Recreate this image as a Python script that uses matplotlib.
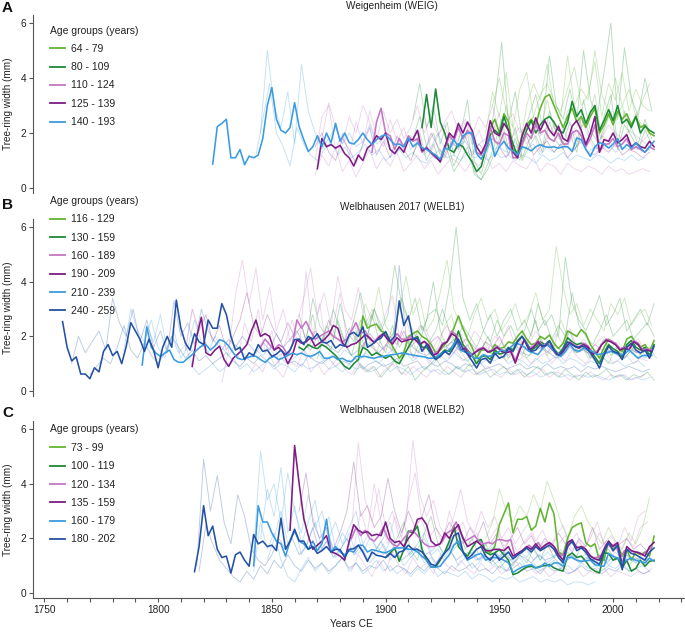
import matplotlib
matplotlib.use("Agg")
import matplotlib.pyplot as plt
from matplotlib.lines import Line2D
import numpy as np

plt.rcParams["font.family"] = ["Liberation Sans", "DejaVu Sans"]

LGREEN = "#62b531"
DGREEN = "#1b8a36"
LPURPLE = "#c477c4"
DPURPLE = "#7c1c84"
LBLUE = "#3a9be0"
DBLUE = "#2451a6"

MEAN_STEP = 2
TREE_STEP = 3

# ---------------- Panel A: Weigenheim (WEIG), group means ----------------
WEIG_LABELS = ["64 - 79", "80 - 109", "110 - 124", "125 - 139", "140 - 193"]
WEIG_COLORS = [LGREEN, DGREEN, LPURPLE, DPURPLE, LBLUE]

WEIG_64_79_START = 1944
WEIG_64_79 = [1.6, 2.2, 2.5, 2.0, 2.7, 2.4, 1.4, 1.3, 1.9, 2.3, 2.5, 2.3, 2.9, 3.3, 3.4, 3.0,
              2.6, 2.2, 2.6, 2.9, 2.4, 2.6, 2.2, 2.6, 2.9, 2.0, 2.3, 2.7, 2.3, 2.8, 2.5, 2.7,
              2.3, 2.6, 2.2, 2.3, 2.0, 1.9]
WEIG_80_109_START = 1916
WEIG_80_109 = [2.2, 3.4, 2.2, 3.6, 2.4, 2.0, 1.4, 1.3, 1.6, 1.5, 1.2, 0.95, 0.6, 0.78, 1.4, 1.94,
               2.1, 1.94, 2.6, 2.1, 1.6, 1.15, 1.64, 2.1, 2.45, 2.0, 2.3, 2.5, 2.6, 2.4, 2.1, 2.0,
               2.4, 3.15, 2.6, 2.85, 2.35, 2.75, 3.0, 2.1, 2.45, 2.85, 2.45, 3.0, 2.35, 2.5, 2.2,
               2.6, 2.0, 2.25, 2.1, 2.0]
WEIG_110_124_START = 1894
WEIG_110_124 = [1.3, 2.4, 2.9, 2.0, 1.9, 1.4, 1.8, 1.5, 1.9, 1.7, 1.8, 1.3, 1.5, 1.25, 1.1, 1.0,
                1.4, 1.9, 1.7, 2.2, 1.8, 2.1, 1.9, 1.3, 1.2, 1.5, 2.2, 1.7, 1.6, 2.0, 1.9, 1.1,
                1.1, 1.6, 2.0, 1.8, 2.3, 2.0, 2.1, 1.8, 1.7, 2.0, 1.6, 1.6, 2.0, 2.1, 1.9, 1.5,
                1.8, 2.3, 1.3, 1.6, 1.6, 1.8, 1.5, 1.6, 1.8, 1.4, 1.5, 1.4, 1.3, 1.5, 1.4]
WEIG_125_139_START = 1870
WEIG_125_139 = [0.7, 1.8, 1.5, 1.58, 1.45, 1.55, 1.25, 1.1, 0.8, 1.2, 1.0, 1.45, 1.6, 1.9, 1.76,
                2.0, 1.4, 1.25, 1.5, 1.3, 1.76, 1.76, 2.1, 1.35, 1.45, 1.3, 1.15, 0.95, 1.5, 2.0,
                1.82, 2.35, 2.0, 2.4, 2.1, 1.5, 1.25, 1.6, 2.45, 2.0, 1.9, 2.35, 2.1, 1.3, 1.1,
                1.9, 2.35, 2.0, 2.55, 2.1, 2.45, 2.1, 1.9, 2.25, 1.8, 1.7, 2.25, 2.45, 2.1, 1.58,
                2.0, 2.6, 1.3, 1.76, 1.7, 2.0, 1.64, 1.76, 1.94, 1.5, 1.64, 1.5, 1.45, 1.7, 1.5]
WEIG_140_193_START = 1824
WEIG_140_193 = [0.87, 2.23, 2.35, 2.5, 1.1, 1.1, 1.4, 0.85, 1.16, 1.1, 1.2, 1.8, 3.0, 3.65, 2.5,
                2.1, 2.0, 2.2, 3.1, 2.23, 1.76, 1.33, 1.5, 1.9, 1.5, 2.0, 1.64, 2.35, 1.7, 2.0,
                1.65, 1.6, 1.76, 2.0, 1.76, 1.58, 1.76, 1.88, 1.94, 1.76, 1.58, 1.6, 1.5, 1.82,
                1.5, 1.64, 1.47, 1.4, 1.3, 1.2, 1.05, 1.45, 1.4, 1.76, 1.5, 1.9, 2.0, 2.0, 1.25,
                1.05, 1.35, 1.88, 1.15, 1.5, 1.7, 1.45, 1.35, 1.2, 1.5, 1.45, 1.35, 1.5, 1.58,
                1.5, 1.48, 1.5, 1.45, 1.5, 1.5, 1.33, 1.82, 1.76, 1.4, 1.15, 1.5, 1.65, 1.6, 1.45,
                1.6, 1.8, 1.4, 1.58, 1.45, 1.64, 1.45, 1.3, 1.5, 1.7]

# Panel A: individual trees (every 3rd year)
WEIG_T_BLUE1_START = 1845
WEIG_T_BLUE1 = [2.0, 5.0, 3.0, 2.2, 3.5, 1.6, 4.5, 2.8, 2.0, 1.4, 1.8, 2.2, 1.6, 2.0, 1.5, 1.7,
                2.3, 1.6, 1.8, 1.4, 1.3, 1.6, 1.9, 1.7, 1.2, 1.5, 2.0, 1.4, 1.6, 1.5, 1.7, 1.3,
                1.6, 1.8, 1.4, 1.5, 1.3, 1.7, 1.5, 1.4, 1.6, 1.2, 1.5, 1.3, 1.6, 1.5, 1.4, 1.7,
                1.3, 1.5, 1.4, 1.6, 1.3, 1.5, 1.4, 1.6, 1.5, 1.4]
WEIG_T_BLUE2_START = 1843
WEIG_T_BLUE2 = [1.2, 2.5, 3.8, 2.0, 1.5, 0.8, 2.2, 1.6, 1.2, 1.0, 1.4, 1.7, 1.2, 1.5, 1.1, 1.3,
                1.6, 1.2, 1.4, 1.0, 1.2, 1.4, 1.1, 1.3, 1.0, 0.9, 1.2, 1.4, 1.1, 1.2, 1.0, 1.3,
                1.1, 1.2, 1.0, 1.3, 1.1, 1.2, 1.0, 1.2, 1.1, 0.9, 1.2, 1.0, 1.1, 1.3, 1.0, 1.2,
                1.1, 1.0, 1.2, 1.1, 0.9, 1.1, 1.0, 1.2, 1.0, 1.1]
WEIG_T_PINK_START = 1869
WEIG_T_PINK1 = [1.0, 2.6, 3.0, 1.4, 2.0, 1.2, 2.4, 1.6, 2.8, 1.9, 1.5, 2.5, 1.7, 2.2, 1.4, 1.8,
                2.6, 1.3, 1.9, 2.3, 1.5, 1.8, 2.4, 1.6, 2.1, 1.4, 2.0, 2.7, 1.5, 1.9, 2.2, 1.6,
                2.0, 1.3, 1.8, 2.3, 1.7, 1.5, 2.0, 1.6, 1.8, 1.4, 1.9, 1.7, 1.5, 1.8, 1.6, 1.4,
                1.7, 1.5]
WEIG_T_PINK2 = [0.5, 1.2, 0.8, 1.5, 0.6, 1.0, 0.4, 0.9, 1.4, 0.7, 1.1, 0.8, 1.3, 0.6, 0.9, 1.2,
                0.7, 1.0, 0.5, 0.8, 1.1, 0.9, 0.6, 1.0, 0.8, 1.2, 0.7, 0.9, 0.6, 1.0, 0.8, 0.7,
                1.1, 0.6, 0.9, 0.8, 0.5, 0.9, 0.7, 0.6, 0.8, 0.7, 0.5, 0.8, 0.6, 0.7, 0.5, 0.6,
                0.7, 0.6]
WEIG_T_PINK3 = [1.5, 2.0, 1.3, 1.0, 1.8, 1.4, 0.9, 1.6, 2.2, 1.2, 1.7, 1.1, 1.9, 1.4, 1.0, 1.6,
                1.3, 2.0, 1.5, 1.1, 1.7, 1.4, 1.9, 1.2, 1.6, 1.3, 1.8, 1.5, 1.1, 1.6, 1.4, 1.9,
                1.2, 1.5, 1.7, 1.3, 1.6, 1.1, 1.4, 1.8, 1.3, 1.2, 1.5, 1.3, 1.6, 1.2, 1.4, 1.3,
                1.1, 1.3]
WEIG_T_PINK4_START = 1872
WEIG_T_PINK4 = [1.8, 3.1, 2.2, 1.6, 2.6, 2.0, 3.0, 2.4, 1.7, 2.8, 2.0, 2.5, 1.8, 2.2, 3.0, 2.0,
                2.6, 1.9, 2.4, 2.8, 2.1, 2.5, 1.9, 2.6, 2.2, 3.0, 2.0, 2.4, 2.7, 2.0, 2.3, 2.6,
                1.9, 2.2, 2.0, 2.4, 1.8, 2.1, 2.5, 1.9, 2.2, 1.8, 2.3, 2.0, 1.8, 2.1, 1.9, 1.7,
                2.0]
WEIG_T_DGREEN_START = 1912
WEIG_T_DGREEN1 = [2.5, 3.8, 2.2, 3.0, 1.6, 2.4, 1.2, 2.0, 3.2, 1.0, 0.5, 1.4, 3.0, 5.3, 2.4, 3.5,
                  1.8, 2.6, 3.4, 2.2, 4.8, 3.0, 2.5, 3.6, 2.4, 5.0, 3.2, 2.6, 4.2, 6.0, 2.5, 5.1,
                  3.3, 2.6, 4.0, 2.8]
WEIG_T_DGREEN2 = [1.8, 2.6, 1.5, 2.0, 1.2, 1.7, 0.8, 1.4, 2.0, 0.6, 0.3, 0.9, 1.6, 2.5, 1.4, 2.2,
                  1.1, 1.7, 2.3, 1.5, 2.8, 2.0, 1.6, 2.4, 1.5, 3.2, 2.1, 1.7, 2.6, 3.4, 1.6, 2.8,
                  2.2, 1.6, 2.5, 1.8]
WEIG_T_DGREEN3 = [1.2, 2.0, 1.0, 1.6, 0.9, 1.4, 0.6, 1.0, 1.5, 0.5, 0.3, 0.7, 1.3, 2.0, 1.2, 1.8,
                  1.0, 1.5, 1.9, 1.3, 2.4, 1.7, 1.4, 2.0, 1.3, 2.6, 1.8, 1.4, 2.2, 2.8, 1.4, 2.3,
                  1.9, 1.4, 2.1, 1.6]
WEIG_T_LGREEN_START = 1944
WEIG_T_LGREEN1 = [2.0, 3.5, 2.6, 4.2, 2.2, 1.5, 3.0, 3.8, 3.2, 4.5, 3.0, 2.8, 3.6, 4.4, 3.0, 3.4,
                  4.6, 2.6, 3.8, 3.2, 4.2, 2.8, 3.6, 3.0, 2.8]
WEIG_T_LGREEN2 = [1.4, 2.4, 1.8, 3.0, 1.6, 1.0, 2.2, 2.6, 2.0, 3.2, 2.2, 1.8, 2.8, 3.0, 2.2, 2.5,
                  3.4, 1.8, 2.6, 2.4, 3.0, 2.0, 2.7, 2.2, 2.0]
WEIG_T_LGREEN3_START = 1947
WEIG_T_LGREEN3 = [3.0, 4.0, 2.8, 2.2, 3.6, 4.2, 2.6, 3.4, 3.8, 3.2, 2.6, 4.8, 3.0, 3.6, 3.2, 5.0,
                  3.4, 2.8, 4.0, 3.0, 3.6, 2.6, 3.2, 3.8]

# ---------------- Panel B: Welbhausen 2017 (WELB1), group means ----------------
WELB1_LABELS = ["116 - 129", "130 - 159", "160 - 189", "190 - 209", "210 - 239", "240 - 259"]
WELB1_COLORS = [LGREEN, DGREEN, LPURPLE, DPURPLE, LBLUE, DBLUE]

WELB1_116_129_START = 1888
WELB1_116_129 = [1.3, 2.75, 2.3, 2.4, 2.45, 2.2, 2.1, 1.8, 1.5, 1.2, 1.4, 2.0, 2.1, 2.2, 2.0, 1.9,
                 1.7, 1.4, 1.5, 1.7, 1.9, 2.3, 2.75, 2.3, 1.9, 1.6, 1.2, 1.5, 1.5, 1.4, 1.7, 1.55,
                 1.6, 1.8, 1.75, 2.0, 2.2, 1.9, 1.7, 1.75, 2.0, 1.9, 2.05, 1.75, 1.55, 1.75, 2.2,
                 2.1, 2.0, 2.25, 2.1, 1.7, 1.45, 1.2, 1.6, 1.9, 1.75, 1.65, 1.45, 1.9, 2.0, 1.75,
                 1.6, 1.7, 1.45, 1.85]
WELB1_130_159_START = 1862
WELB1_130_159 = [1.6, 1.5, 1.7, 1.6, 1.55, 1.7, 1.6, 1.45, 1.3, 1.1, 0.9, 0.8, 1.0, 1.15, 1.6, 1.5,
                 1.3, 1.4, 1.3, 1.2, 1.3, 1.1, 1.0, 1.3, 1.6, 1.9, 2.0, 1.6, 1.6, 1.35, 1.2, 1.35,
                 1.5, 1.45, 1.7, 2.2, 1.7, 1.5, 1.3, 1.0, 1.25, 1.3, 1.15, 1.5, 1.35, 1.4, 1.6,
                 1.5, 1.85, 2.0, 1.75, 1.5, 1.6, 1.8, 1.7, 1.85, 1.55, 1.35, 1.55, 1.95, 1.8, 1.7,
                 1.75, 1.7, 1.45, 1.25, 1.0, 1.4, 1.7, 1.55, 1.45, 1.25, 1.7, 1.85, 1.6, 1.5, 1.6,
                 1.3, 1.7]
WELB1_160_189_START = 1845
WELB1_160_189 = [1.6, 1.9, 1.7, 1.5, 1.7, 1.6, 1.3, 1.7, 2.6, 2.3, 2.55, 2.2, 1.9, 2.0, 2.1, 2.2,
                 2.0, 1.9, 1.8, 1.9, 2.2, 2.5, 2.1, 2.2, 1.9, 1.8, 2.0, 2.1, 1.9, 1.8, 2.1, 1.9,
                 1.9, 2.0, 1.9, 1.75, 1.8, 1.7, 1.35, 1.45, 1.75, 1.8, 2.2, 2.05, 1.55, 1.6, 1.3,
                 1.4, 1.55, 1.6, 1.45, 1.5, 1.65, 1.5, 1.45, 1.5, 1.1, 1.55, 1.9, 1.55, 1.65, 1.85,
                 1.65, 1.75, 1.6, 1.4, 1.35, 1.6, 1.8, 1.7, 1.6, 1.75, 1.65, 1.4, 1.45, 1.7, 1.9,
                 1.85, 1.75, 1.55, 1.6, 1.55, 1.85, 1.75, 1.5, 1.55, 1.5]
WELB1_190_209_START = 1815
WELB1_190_209 = [0.9, 2.0, 2.7, 1.4, 1.3, 1.5, 1.64, 1.15, 0.9, 1.2, 1.35, 1.5, 1.7, 2.2, 2.6, 2.0,
                 2.1, 2.0, 1.5, 1.6, 1.4, 1.0, 1.3, 1.88, 1.75, 1.8, 1.95, 1.64, 1.76, 1.88, 2.06,
                 2.4, 2.3, 1.76, 1.6, 1.7, 1.75, 1.9, 2.06, 1.95, 1.76, 1.95, 2.1, 1.88, 1.72, 1.95,
                 1.8, 1.85, 1.9, 1.88, 1.7, 1.82, 1.65, 1.3, 1.39, 1.7, 1.8, 2.1, 2.0, 1.5, 1.57,
                 1.25, 1.39, 1.5, 1.57, 1.42, 1.48, 1.6, 1.45, 1.4, 1.45, 1.02, 1.5, 1.88, 1.5, 1.6,
                 1.8, 1.6, 1.7, 1.55, 1.35, 1.3, 1.57, 1.76, 1.64, 1.57, 1.7, 1.6, 1.35, 1.4, 1.7,
                 1.86, 1.8, 1.7, 1.5, 1.57, 1.5, 1.8, 1.7, 1.45, 1.5, 1.45]
WELB1_210_239_START = 1793
WELB1_210_239 = [0.95, 2.35, 1.6, 1.39, 1.27, 1.39, 1.5, 1.15, 1.05, 1.05, 1.2, 1.33, 1.5, 1.64,
                 1.7, 1.5, 1.65, 1.88, 1.82, 1.65, 1.4, 1.2, 1.15, 1.22, 1.27, 1.27, 1.15, 1.05,
                 1.2, 1.27, 1.15, 1.22, 1.3, 1.39, 1.33, 1.39, 1.3, 1.27, 1.33, 1.45, 1.2, 1.2,
                 1.27, 1.15, 1.2, 1.1, 1.08, 1.27, 1.25, 1.27, 1.22, 1.2, 1.25, 1.27, 1.3, 1.33,
                 1.35, 1.39, 1.37, 1.33, 1.3, 1.27, 1.25, 1.2, 1.2, 1.3, 1.39, 1.45, 1.6, 1.85,
                 1.5, 1.42, 1.39, 1.2, 1.2, 1.33, 1.27, 1.3, 1.39, 1.5, 1.45, 1.6, 1.76, 1.7, 1.6,
                 1.45, 1.4, 1.33, 1.57, 1.7, 1.55, 1.39, 1.27, 1.45, 1.7, 1.5, 1.45, 1.57, 1.5,
                 1.45, 1.33, 1.36, 1.39, 1.45, 1.38, 1.33, 1.35, 1.5, 1.35, 1.2, 1.3, 1.3, 1.3]
WELB1_240_259_START = 1758
WELB1_240_259 = [2.54, 1.6, 1.1, 1.25, 0.62, 0.62, 0.45, 0.85, 0.7, 1.45, 1.7, 1.3, 1.45, 1.0,
                 1.64, 2.5, 2.2, 1.9, 1.45, 1.9, 1.5, 0.85, 1.6, 2.0, 1.6, 3.33, 2.3, 1.75, 1.5,
                 2.1, 1.8, 1.7, 2.6, 2.3, 2.3, 3.2, 2.8, 2.0, 1.5, 1.6, 1.15, 1.4, 1.3, 1.7, 1.45,
                 1.5, 1.27, 1.35, 1.5, 1.33, 1.5, 1.88, 1.9, 1.7, 2.0, 1.9, 2.1, 1.8, 1.75, 1.85,
                 1.57, 1.7, 1.64, 2.06, 2.15, 2.0, 2.35, 1.6, 1.7, 1.85, 1.94, 2.18, 1.82, 2.0, 3.3,
                 2.4, 2.75, 1.9, 1.94, 1.45, 1.7, 1.39, 1.15, 1.27, 1.45, 1.33, 1.6, 1.9, 1.55,
                 1.35, 1.1, 0.84, 1.15, 1.2, 1.02, 1.39, 1.2, 1.27, 1.57, 1.45, 1.8, 2.0, 1.7, 1.45,
                 1.5, 1.7, 1.64, 1.82, 1.5, 1.3, 1.5, 1.8, 1.7, 1.6, 1.64, 1.6, 1.39, 1.15, 0.84,
                 1.3, 1.64, 1.45, 1.4, 1.15, 1.6, 1.75, 1.5, 1.39, 1.5, 1.2, 1.64]

# Panel B: individual trees (every 3rd year)
WELB1_T_DBLUE1_START = 1762
WELB1_T_DBLUE1 = [1.0, 2.0, 1.4, 1.8, 2.2, 1.5, 3.4, 2.5, 2.0, 3.0, 1.8, 2.6, 1.6, 2.2, 1.4, 3.3,
                  2.0, 2.5, 1.7, 3.0, 2.2, 1.8, 1.5, 1.9, 1.6, 2.0, 1.7, 1.4, 1.8, 1.5, 2.1, 1.6,
                  1.9, 2.2, 1.7, 1.5, 2.0, 1.8, 1.6, 1.4, 1.7, 1.3, 1.5, 1.8, 1.6, 1.4, 1.7, 1.5,
                  4.6, 2.0, 1.6, 1.4, 1.3, 1.5, 1.2, 1.6, 1.4, 1.8, 1.3, 1.0, 1.3, 1.2, 1.4, 1.5,
                  1.3, 1.7, 1.4, 1.3, 1.5, 1.6, 1.4, 1.2, 1.3, 1.6, 1.4, 1.5, 1.3, 1.0, 1.4, 1.5,
                  1.3, 1.2, 1.5, 1.4, 1.2, 1.4]
WELB1_T_DBLUE2_START = 1770
WELB1_T_DBLUE2 = [0.6, 0.9, 1.2, 1.0, 1.6, 2.4, 1.5, 1.2, 1.8, 1.3, 1.0, 1.4, 2.0, 1.6, 1.2, 1.5,
                  1.1, 1.3, 1.0, 1.2, 1.4, 1.1, 0.9, 1.2, 1.0, 1.3, 1.1, 0.9, 1.2, 1.0, 1.1, 0.9,
                  1.3, 1.1, 1.0, 1.2, 0.9, 1.1, 1.0, 1.2, 0.8, 1.0, 1.1, 0.9, 1.0, 1.2, 0.9, 1.0,
                  1.1, 0.8, 1.0, 0.9, 1.1, 1.0, 0.8, 1.0, 0.9, 1.1, 0.8, 0.9, 1.0, 0.8, 0.9, 1.0,
                  0.8, 0.9, 0.8, 1.0, 0.8, 0.9, 0.8, 0.9, 0.7, 0.9, 0.8, 0.9, 0.8, 0.7, 0.8, 0.9,
                  0.8, 0.7, 0.8]
WELB1_T_LBLUE1_START = 1785
WELB1_T_LBLUE1 = [1.5, 3.0, 2.2, 1.8, 2.6, 1.6, 1.2, 2.0, 1.4, 1.7, 0.9, 0.6, 0.8, 1.0, 0.7, 0.9,
                  1.2, 0.8, 1.0, 0.7, 0.9, 1.1, 0.8, 1.0, 0.9, 0.7, 1.0, 0.8, 0.9, 1.1, 0.8, 0.9,
                  0.7, 1.0, 0.8, 0.9, 0.7, 0.8, 1.0, 0.7, 0.9, 0.8, 0.6, 0.8, 0.9, 0.7, 0.8, 0.6,
                  0.7, 0.9, 0.7, 0.8, 0.6, 0.7, 0.8, 0.6, 0.7, 0.6, 0.8, 0.6, 0.7, 0.5, 0.6, 0.7,
                  0.5, 0.6, 0.5, 0.6, 0.5, 0.6, 0.5, 0.4, 0.5, 0.6, 0.4, 0.5, 0.4, 0.5]
WELB1_T_LBLUE2_START = 1795
WELB1_T_LBLUE2 = [2.4, 1.8, 2.8, 1.5, 2.2, 1.2, 1.6, 2.6, 1.8, 1.4, 2.0, 1.6, 1.3, 1.7, 1.4, 1.2,
                  1.5, 1.3, 1.6, 1.2, 1.4, 1.1, 1.3, 1.5, 1.2, 1.4, 1.1, 1.3, 1.2, 1.5, 1.3, 1.1,
                  1.4, 1.2, 1.0, 1.3, 1.5, 1.2, 1.4, 1.1, 1.3, 1.2, 1.0, 1.3, 1.1, 1.4, 1.2, 1.1,
                  1.3, 1.0, 1.2, 1.1, 1.3, 1.0, 1.2, 1.1, 0.9, 1.2, 1.0, 1.1, 1.3, 1.0, 1.2, 1.1,
                  0.9, 1.1, 1.0, 1.2, 1.0, 1.1, 0.9, 1.0, 1.1, 0.9]
WELB1_T_PURPLE_START = 1812
WELB1_T_PURPLE = [1.5, 3.0, 2.2, 2.8, 1.8, 2.4, 1.5, 2.0, 2.6, 3.6, 2.4, 2.0, 2.8, 2.2, 1.8, 2.5,
                  2.0, 2.4, 1.6, 2.2, 1.8, 2.6, 2.0, 1.7, 2.3, 1.9, 1.6, 2.1, 1.8, 1.5, 2.0, 1.7,
                  2.2, 1.6, 1.9, 1.5, 1.8, 2.0, 1.6, 1.8, 1.5, 1.9, 1.7, 1.4, 1.8, 1.6, 2.0, 1.5,
                  1.7, 1.9, 1.5, 1.7, 1.6, 1.4, 1.7, 1.5, 1.8, 1.5, 1.6, 1.4, 1.7, 1.5, 1.6, 1.4,
                  1.5, 1.7, 1.4, 1.5]
WELB1_T_PINK1_START = 1828
WELB1_T_PINK1 = [0.3, 1.5, 3.5, 4.8, 3.2, 4.5, 2.6, 3.8, 2.2, 3.0, 1.8, 2.5, 3.4, 4.5, 2.8, 3.6,
                 2.4, 4.2, 3.0, 2.6, 3.8, 2.4, 3.0, 2.2, 2.8, 3.5, 2.0, 2.6, 1.8, 2.4, 2.2, 1.6,
                 2.0, 2.4, 1.8, 2.1, 1.6, 2.2, 1.9, 1.5, 2.0, 1.8, 2.4, 1.6, 2.0, 1.7, 2.2, 1.8,
                 1.5, 2.1, 1.7, 2.3, 1.6, 1.9, 1.5, 1.8, 2.0, 1.6, 1.8, 1.5, 1.7, 1.9, 1.5]
WELB1_T_PINK2_START = 1835
WELB1_T_PINK2 = [1.2, 2.5, 1.8, 3.0, 1.4, 2.2, 1.0, 1.8, 2.6, 1.5, 4.4, 2.0, 3.2, 1.6, 2.4, 3.6,
                 1.8, 2.6, 1.4, 2.0, 1.6, 1.2, 1.8, 1.4, 2.2, 1.5, 1.2, 1.6, 1.0, 1.4, 1.7, 1.2,
                 1.5, 1.1, 1.3, 1.6, 1.2, 1.0, 1.4, 1.2, 1.5, 1.1, 1.3, 1.0, 1.2, 1.4, 1.0, 1.3,
                 1.1, 1.5, 1.2, 1.0, 1.3, 1.1, 1.4, 1.0, 1.2, 1.3, 1.0, 1.2, 1.1]
WELB1_T_PINK3_START = 1840
WELB1_T_PINK3 = [0.6, 1.0, 0.7, 1.3, 0.8, 0.5, 1.1, 0.9, 1.5, 0.7, 1.0, 0.6, 0.9, 1.2, 0.8, 0.6,
                 1.0, 0.7, 0.9, 0.5, 0.8, 1.0, 0.7, 0.6, 0.9, 0.7, 0.5, 0.8, 0.6, 0.9, 0.7, 0.5,
                 0.8, 0.6, 0.7, 0.9, 0.6, 0.5, 0.8, 0.6, 0.7, 0.5, 0.6, 0.8, 0.5, 0.7, 0.6, 0.4,
                 0.6, 0.5, 0.7, 0.5, 0.4, 0.6, 0.5, 0.6, 0.4, 0.5, 0.6]
WELB1_T_DGREEN1_START = 1862
WELB1_T_DGREEN1 = [2.8, 1.8, 3.4, 2.4, 2.0, 3.0, 2.2, 1.6, 2.6, 3.6, 2.4, 3.0, 2.2, 2.8, 4.6, 3.2,
                   2.6, 3.4, 2.2, 2.8, 3.0, 2.4, 3.8, 6.0, 3.4, 2.6, 3.2, 2.2, 2.8, 2.0, 2.6, 3.0,
                   2.2, 2.6, 2.0, 3.2, 2.4, 2.8, 2.0, 4.9, 3.2, 2.6, 2.2, 2.8, 3.5, 2.4, 2.8, 3.4,
                   2.2, 2.6, 3.0, 2.4, 3.2]
WELB1_T_DGREEN2_START = 1870
WELB1_T_DGREEN2 = [1.2, 2.0, 1.5, 2.6, 1.8, 1.3, 2.2, 1.6, 2.8, 1.9, 1.4, 2.4, 1.6, 2.0, 1.2, 1.8,
                   2.6, 4.0, 2.2, 1.6, 1.9, 1.4, 1.7, 1.2, 1.5, 2.0, 1.4, 1.8, 1.2, 1.6, 1.3, 1.9,
                   2.6, 1.5, 1.8, 1.3, 1.6, 2.2, 1.4, 1.7, 1.2, 1.5, 1.9, 1.3, 1.6, 1.2, 1.5, 1.8,
                   1.3, 1.6]
WELB1_T_DGREEN3_START = 1886
WELB1_T_DGREEN3 = [0.6, 1.0, 0.7, 0.9, 0.5, 0.8, 1.1, 0.6, 0.9, 0.4, 0.7, 0.9, 1.2, 0.8, 0.6, 0.9,
                   0.7, 1.0, 0.6, 0.8, 0.5, 0.7, 0.9, 0.6, 0.8, 0.5, 0.7, 0.9, 0.6, 0.7, 0.5, 0.8,
                   0.6, 0.4, 0.7, 0.5, 0.6, 0.8, 0.5, 0.6, 0.4, 0.6, 0.5, 0.7, 0.4]
WELB1_T_DGREEN4_START = 1865
WELB1_T_DGREEN4 = [2.0, 2.8, 1.6, 2.4, 1.9, 3.2, 2.2, 1.8, 2.6, 2.0, 3.0, 2.4, 1.8, 2.2, 3.4, 2.6,
                   2.0, 2.4, 1.8, 2.2, 3.0, 2.2, 1.8, 2.4, 2.0, 1.6, 2.2, 1.8, 2.6, 2.0, 2.4, 1.8,
                   2.2, 3.0, 2.2, 2.6, 1.9, 2.4, 2.0, 3.6, 2.4, 2.0, 1.7, 2.2, 2.8, 2.0, 2.3, 2.6,
                   1.9, 2.2, 2.5, 2.0]
WELB1_T_LGREEN1_START = 1888
WELB1_T_LGREEN1 = [2.0, 3.2, 2.6, 3.8, 2.4, 2.0, 3.0, 4.2, 2.8, 3.4, 2.2, 2.6, 3.6, 4.8, 3.0, 2.4,
                   2.0, 2.8, 3.4, 2.6, 3.0, 2.2, 2.6, 3.2, 2.4, 2.8, 3.6, 2.6, 3.0, 5.3, 3.8, 2.8,
                   3.2, 2.4, 3.0, 2.6, 2.2, 3.2, 2.8, 3.4, 2.4, 2.8, 3.0, 2.4]
WELB1_T_LGREEN2_START = 1890
WELB1_T_LGREEN2 = [1.2, 1.8, 1.4, 2.2, 1.6, 1.0, 1.5, 2.0, 1.4, 1.8, 1.2, 1.6, 2.4, 2.8, 1.6, 1.2,
                   0.9, 1.4, 1.8, 1.3, 1.6, 1.1, 1.4, 1.8, 1.2, 1.5, 2.0, 1.3, 1.6, 2.6, 2.0, 1.4,
                   1.7, 1.2, 1.5, 1.3, 1.0, 1.6, 1.4, 1.8, 1.2, 1.4, 1.6, 1.2]

# ---------------- Panel C: Welbhausen 2018 (WELB2), group means ----------------
WELB2_LABELS = ["73 - 99", "100 - 119", "120 - 134", "135 - 159", "160 - 179", "180 - 202"]
WELB2_COLORS = [LGREEN, DGREEN, LPURPLE, DPURPLE, LBLUE, DBLUE]

WELB2_73_99_START = 1944
WELB2_73_99 = [1.6, 1.47, 1.7, 2.5, 2.9, 3.3, 2.2, 2.7, 2.7, 2.8, 2.3, 2.45, 3.1, 2.6, 3.3, 2.9,
               1.5, 1.4, 2.0, 2.4, 2.5, 2.57, 1.84, 1.7, 1.8, 1.2, 1.2, 1.9, 1.6, 1.77, 1.35, 1.59,
               1.2, 1.5, 1.4, 1.5, 1.35, 2.08]
WELB2_100_119_START = 1900
WELB2_100_119 = [1.3, 1.47, 1.65, 1.16, 1.59, 2.27, 2.2, 2.45, 1.6, 1.2, 0.95, 0.95, 1.2, 1.5, 1.9,
                 2.45, 1.7, 1.5, 1.35, 1.65, 1.9, 1.96, 1.5, 1.4, 1.47, 1.59, 1.4, 1.2, 0.67, 0.73,
                 0.85, 0.95, 0.98, 0.92, 0.98, 1.0, 1.04, 0.92, 0.85, 0.8, 1.35, 1.47, 1.3, 1.35,
                 1.16, 0.92, 0.8, 0.73, 1.47, 1.45, 1.2, 1.28, 0.92, 1.2, 0.8, 0.9, 1.2, 0.98, 1.16,
                 1.2]
WELB2_120_134_START = 1885
WELB2_120_134 = [2.0, 2.4, 2.1, 2.3, 2.0, 1.9, 2.1, 2.4, 2.0, 1.8, 1.7, 1.9, 2.1, 2.3, 2.2, 2.0,
                 1.8, 1.7, 1.7, 1.75, 1.9, 2.2, 2.3, 2.6, 2.2, 1.9, 2.0, 2.1, 1.9, 1.8, 1.85, 1.8,
                 1.95, 1.95, 1.9, 1.95, 1.3, 1.5, 1.6, 1.75, 1.6, 1.85, 1.6, 1.8, 1.8, 1.6, 1.35,
                 1.5, 1.9, 1.75, 1.65, 1.7, 1.45, 1.3, 1.3, 1.4, 1.8, 1.7, 1.8, 1.3, 1.55, 1.6, 1.5,
                 1.5, 1.4, 1.55, 1.7]
WELB2_135_159_START = 1858
WELB2_135_159 = [2.3, 5.4, 4.0, 2.74, 2.1, 1.6, 1.75, 1.9, 2.1, 1.5, 1.45, 1.35, 1.2, 1.9, 2.5, 2.3,
                 2.2, 2.25, 2.1, 2.15, 2.1, 2.6, 2.0, 1.85, 1.9, 1.7, 2.0, 2.2, 2.7, 2.75, 2.5, 1.9,
                 1.75, 1.8, 2.2, 2.0, 2.3, 2.5, 2.0, 1.7, 1.8, 1.9, 1.75, 1.55, 1.55, 1.6, 1.6,
                 1.55, 1.7, 1.35, 1.45, 1.55, 1.7, 1.6, 1.8, 1.6, 1.75, 1.85, 1.7, 1.4, 1.2, 1.85,
                 1.95, 1.65, 1.7, 1.6, 1.35, 1.25, 1.2, 1.6, 1.9, 1.7, 1.85, 1.0, 1.7, 1.55, 1.5,
                 1.45, 1.35, 1.7, 1.85]
WELB2_160_179_START = 1842
WELB2_160_179 = [1.0, 3.2, 2.6, 2.6, 2.2, 1.9, 1.8, 1.35, 1.9, 2.27, 1.9, 1.8, 1.6, 1.9, 1.55, 1.8,
                 2.7, 1.5, 1.7, 1.5, 1.4, 1.55, 1.5, 1.75, 1.75, 1.5, 1.59, 1.55, 1.5, 1.47, 1.55,
                 1.65, 1.65, 1.65, 1.6, 1.6, 1.5, 1.35, 1.2, 0.95, 0.95, 0.98, 1.2, 1.4, 1.75, 1.9,
                 1.5, 1.2, 1.3, 1.4, 1.45, 1.2, 1.28, 1.3, 1.28, 1.2, 1.1, 0.75, 0.86, 0.95, 1.0,
                 1.04, 0.92, 0.95, 1.1, 0.98, 1.1, 1.1, 0.98, 1.3, 1.3, 1.2, 1.16, 1.18, 1.2, 1.04,
                 1.0, 0.98, 1.45, 1.35, 1.28, 1.1, 1.2, 1.28, 1.2, 1.15, 1.1, 1.28, 1.16]
WELB2_180_202_START = 1816
WELB2_180_202 = [0.78, 1.7, 3.2, 2.1, 2.45, 1.6, 1.3, 1.35, 0.73, 1.4, 1.5, 1.2, 0.98, 2.14, 1.8,
                 1.9, 1.7, 1.75, 1.55, 2.74, 1.6, 1.9, 2.33, 1.9, 1.9, 1.6, 1.7, 1.45, 1.55, 1.7,
                 1.5, 1.6, 1.59, 1.3, 1.6, 1.62, 1.75, 1.5, 1.16, 1.5, 1.38, 1.35, 1.3, 1.45, 1.3,
                 1.5, 1.55, 1.75, 1.6, 1.6, 1.5, 1.3, 1.05, 1.0, 1.25, 1.47, 1.65, 2.1, 2.2, 1.5,
                 1.25, 1.4, 1.6, 1.7, 1.35, 1.2, 1.45, 1.2, 1.35, 1.5, 1.25, 1.4, 1.5, 1.65, 1.5,
                 1.7, 1.55, 1.65, 1.75, 1.6, 1.3, 1.1, 1.7, 1.9, 1.55, 1.65, 1.5, 1.25, 1.15, 1.05,
                 1.5, 1.85, 1.55, 1.75, 0.85, 1.6, 1.45, 1.4, 1.3, 1.2, 1.5, 1.65]

# Panel C: individual trees (every 3rd year)
WELB2_T_DBLUE1_START = 1817
WELB2_T_DBLUE1 = [1.0, 4.9, 3.0, 4.3, 2.6, 1.8, 3.6, 2.8, 1.6, 1.2, 1.0, 1.4, 2.0, 1.6, 2.0, 1.4,
                  1.7, 2.4, 1.5, 1.9, 1.3, 1.6, 2.0, 1.4, 1.7, 1.2, 1.5, 1.9, 1.3, 1.6, 1.2, 1.4,
                  1.7, 1.3, 1.5, 1.1, 1.4, 1.6, 1.2, 1.4, 1.5, 1.2, 1.4, 1.1, 1.3, 1.5, 1.2, 1.4,
                  1.3, 1.1, 1.4, 1.2, 1.3, 1.5, 1.2, 1.4, 1.1, 1.3, 1.2, 1.4, 1.1, 1.3, 1.2, 1.4,
                  1.2, 1.3, 1.1]
WELB2_T_DBLUE2_START = 1818
WELB2_T_DBLUE2 = [0.8, 2.5, 1.8, 1.2, 0.9, 0.6, 0.4, 0.8, 0.5, 1.0, 0.7, 1.2, 0.9, 1.4, 1.0, 0.8,
                  1.2, 0.9, 1.1, 0.8, 1.0, 1.3, 0.9, 1.1, 0.8, 1.0, 0.9, 1.2, 0.8, 1.0, 0.9, 0.7,
                  1.0, 0.8, 1.1, 0.9, 0.7, 1.0, 0.8, 0.9, 1.1, 0.8, 0.9, 0.7, 1.0, 0.8, 0.9, 1.1,
                  0.8, 0.9, 0.7, 1.0, 0.8, 0.9, 0.7, 0.8, 1.0, 0.8, 0.9, 0.7, 0.9, 0.8, 1.0, 0.8,
                  0.9, 0.7, 0.8]
WELB2_T_LBLUE1_START = 1842
WELB2_T_LBLUE1 = [1.5, 5.2, 3.4, 4.0, 2.6, 4.4, 3.0, 2.2, 3.6, 2.4, 3.0, 2.0, 2.6, 1.8, 2.4, 3.0,
                  1.8, 2.2, 1.6, 2.0, 2.6, 1.6, 2.0, 1.4, 1.8, 2.2, 1.5, 1.8, 1.3, 1.7, 2.0, 1.4,
                  1.6, 1.2, 1.5, 1.8, 1.3, 1.6, 1.2, 1.5, 1.3, 1.7, 1.2, 1.5, 1.3, 1.6, 1.2, 1.4,
                  1.3, 1.5, 1.1, 1.4, 1.2, 1.5, 1.2, 1.3, 1.1, 1.4, 1.2]
WELB2_T_LBLUE2_START = 1842
WELB2_T_LBLUE2 = [0.8, 2.6, 1.6, 2.2, 1.2, 0.6, 0.4, 0.9, 1.3, 0.8, 1.1, 0.7, 1.0, 1.3, 0.8, 1.1,
                  0.7, 0.9, 1.2, 0.8, 1.0, 0.7, 0.9, 0.6, 0.9, 0.7, 1.0, 0.6, 0.8, 0.7, 0.6, 0.8,
                  0.5, 0.7, 0.6, 0.4, 0.6, 0.5, 0.6, 0.4, 0.5, 0.6, 0.4, 0.5, 0.4, 0.5, 0.3, 0.4,
                  0.4, 0.3, 0.4]
WELB2_T_LBLUE3_START = 1845
WELB2_T_LBLUE3 = [2.0, 3.8, 2.8, 4.6, 2.2, 3.2, 1.8, 2.6, 3.4, 2.0, 2.8, 1.6, 2.2, 1.8, 2.4, 1.5,
                  2.0, 1.7, 1.4, 1.9, 1.5, 1.8, 1.3, 1.6, 2.0, 1.4, 1.6, 1.2, 1.5, 1.8, 1.3, 1.5,
                  1.2, 1.4, 1.7, 1.3, 1.5, 1.1, 1.4, 1.6, 1.2, 1.4, 1.1, 1.3, 1.5, 1.2, 1.4, 1.1,
                  1.3, 1.2, 1.4, 1.0, 1.3, 1.2, 1.4, 1.1, 1.3, 1.2]
WELB2_T_LBLUE4_START = 1848
WELB2_T_LBLUE4 = [1.2, 2.0, 3.0, 1.8, 2.4, 1.4, 1.9, 2.6, 1.6, 2.0, 1.3, 1.7, 2.2, 1.4, 1.6, 1.1,
                  1.4, 1.8, 1.2, 1.5, 1.0, 1.3, 1.6, 1.1, 1.3, 0.9, 1.2, 1.5, 1.0, 1.3, 0.9, 1.1,
                  1.4, 1.0, 1.2, 0.8, 1.1, 1.3, 0.9, 1.1, 0.8, 1.0, 1.2, 0.9, 1.0, 0.8, 1.1, 0.9,
                  1.0, 0.8, 1.0, 0.9, 1.1, 0.8, 0.9, 1.0, 0.8]
WELB2_T_PURPLE_START = 1862
WELB2_T_PURPLE = [3.0, 4.4, 2.6, 2.0, 2.4, 1.6, 2.2, 3.0, 4.8, 2.8, 3.2, 2.4, 2.8, 4.2, 3.0, 2.2,
                  3.0, 2.4, 2.8, 3.6, 2.4, 2.0, 2.6, 2.2, 1.8, 2.4, 2.0, 2.6, 1.8, 2.2, 1.6, 2.0,
                  2.4, 1.8, 2.1, 1.6, 2.0, 1.7, 2.2, 1.8, 1.5, 2.0, 1.7, 2.4, 1.6, 1.9, 1.5, 1.8,
                  2.0, 1.6, 1.8, 1.5, 1.9]
WELB2_T_PINK_START = 1885
WELB2_T_PINK1 = [2.2, 5.5, 3.4, 2.6, 3.8, 2.4, 3.0, 2.0, 2.6, 5.6, 3.6, 2.8, 3.4, 2.4, 2.0, 2.8,
                 3.8, 2.6, 2.2, 3.0, 2.4, 2.8, 2.0, 2.4, 1.8, 2.2, 2.6, 1.9, 2.3, 1.7, 2.1, 2.5,
                 1.8, 2.2, 1.6, 2.0, 2.6, 1.8, 2.1, 1.7, 2.4, 1.9, 2.8, 3.0]
WELB2_T_PINK2 = [0.8, 1.4, 1.0, 0.6, 1.2, 0.8, 1.5, 1.0, 0.7, 1.3, 0.9, 1.1, 0.7, 1.4, 1.0, 0.8,
                 1.2, 0.9, 0.7, 1.1, 0.8, 1.0, 0.7, 0.9, 1.2, 0.8, 1.0, 0.7, 0.9, 0.6, 0.8, 1.0,
                 0.7, 0.9, 0.6, 0.8, 0.7, 0.9, 0.6, 0.8, 0.7, 0.6, 0.8, 0.7, 0.9]
WELB2_T_PINK3_START = 1886
WELB2_T_PINK3 = [1.6, 3.0, 2.2, 4.0, 2.6, 1.8, 2.8, 2.0, 3.4, 4.4, 2.6, 2.0, 2.4, 1.8, 3.0, 2.2,
                 2.6, 1.8, 2.2, 1.6, 2.0, 2.4, 1.7, 2.0, 1.5, 1.9, 2.2, 1.6, 1.9, 1.5, 1.8, 2.1,
                 1.6, 1.9, 1.4, 1.7, 2.2, 1.6, 1.8, 1.5, 2.0, 1.7, 2.4, 2.6]
WELB2_T_DGREEN_START = 1902
WELB2_T_DGREEN = [1.4, 2.0, 2.6, 1.6, 1.2, 2.2, 2.8, 1.8, 1.4, 2.0, 2.4, 1.6, 2.0, 1.4, 1.8, 1.2,
                  0.9, 1.2, 1.0, 1.4, 1.1, 1.6, 1.2, 1.8, 1.3, 1.0, 1.5, 1.2, 1.7, 1.3, 1.0, 1.4,
                  1.6, 1.2, 1.4, 1.0, 1.3, 1.1, 1.5]
WELB2_T_LGREEN_START = 1944
WELB2_T_LGREEN = [2.0, 2.6, 3.8, 3.0, 2.6, 3.2, 2.8, 3.6, 3.0, 4.1, 3.4, 2.6, 2.0, 2.8, 3.2, 2.6,
                  2.2, 1.8, 2.4, 1.9, 1.6, 2.2, 1.8, 2.4, 3.5]

# tables built from the lists above
WEIG_MEANS = [(WEIG_64_79_START, WEIG_64_79), (WEIG_80_109_START, WEIG_80_109),
              (WEIG_110_124_START, WEIG_110_124), (WEIG_125_139_START, WEIG_125_139),
              (WEIG_140_193_START, WEIG_140_193)]
WEIG_TREES = [(WEIG_T_BLUE1_START, WEIG_T_BLUE1, LBLUE), (WEIG_T_BLUE2_START, WEIG_T_BLUE2, LBLUE),
              (WEIG_T_PINK_START, WEIG_T_PINK1, LPURPLE), (WEIG_T_PINK_START, WEIG_T_PINK2, LPURPLE),
              (WEIG_T_PINK_START, WEIG_T_PINK3, DPURPLE), (WEIG_T_PINK4_START, WEIG_T_PINK4, LPURPLE),
              (WEIG_T_DGREEN_START, WEIG_T_DGREEN1, DGREEN), (WEIG_T_DGREEN_START, WEIG_T_DGREEN2, DGREEN),
              (WEIG_T_DGREEN_START, WEIG_T_DGREEN3, DGREEN),
              (WEIG_T_LGREEN_START, WEIG_T_LGREEN1, LGREEN), (WEIG_T_LGREEN_START, WEIG_T_LGREEN2, LGREEN),
              (WEIG_T_LGREEN3_START, WEIG_T_LGREEN3, LGREEN)]

WELB1_MEANS = [(WELB1_116_129_START, WELB1_116_129), (WELB1_130_159_START, WELB1_130_159),
               (WELB1_160_189_START, WELB1_160_189), (WELB1_190_209_START, WELB1_190_209),
               (WELB1_210_239_START, WELB1_210_239), (WELB1_240_259_START, WELB1_240_259)]
WELB1_TREES = [(WELB1_T_DBLUE1_START, WELB1_T_DBLUE1, DBLUE), (WELB1_T_DBLUE2_START, WELB1_T_DBLUE2, DBLUE),
               (WELB1_T_LBLUE1_START, WELB1_T_LBLUE1, LBLUE), (WELB1_T_LBLUE2_START, WELB1_T_LBLUE2, LBLUE),
               (WELB1_T_PURPLE_START, WELB1_T_PURPLE, DPURPLE),
               (WELB1_T_PINK1_START, WELB1_T_PINK1, LPURPLE), (WELB1_T_PINK2_START, WELB1_T_PINK2, LPURPLE),
               (WELB1_T_PINK3_START, WELB1_T_PINK3, LPURPLE),
               (WELB1_T_DGREEN1_START, WELB1_T_DGREEN1, DGREEN), (WELB1_T_DGREEN2_START, WELB1_T_DGREEN2, DGREEN),
               (WELB1_T_DGREEN3_START, WELB1_T_DGREEN3, DGREEN), (WELB1_T_DGREEN4_START, WELB1_T_DGREEN4, DGREEN),
               (WELB1_T_LGREEN1_START, WELB1_T_LGREEN1, LGREEN), (WELB1_T_LGREEN2_START, WELB1_T_LGREEN2, LGREEN)]

WELB2_MEANS = [(WELB2_73_99_START, WELB2_73_99), (WELB2_100_119_START, WELB2_100_119),
               (WELB2_120_134_START, WELB2_120_134), (WELB2_135_159_START, WELB2_135_159),
               (WELB2_160_179_START, WELB2_160_179), (WELB2_180_202_START, WELB2_180_202)]
WELB2_TREES = [(WELB2_T_DBLUE1_START, WELB2_T_DBLUE1, DBLUE), (WELB2_T_DBLUE2_START, WELB2_T_DBLUE2, DBLUE),
               (WELB2_T_LBLUE1_START, WELB2_T_LBLUE1, LBLUE), (WELB2_T_LBLUE2_START, WELB2_T_LBLUE2, LBLUE),
               (WELB2_T_LBLUE3_START, WELB2_T_LBLUE3, LBLUE), (WELB2_T_LBLUE4_START, WELB2_T_LBLUE4, LBLUE),
               (WELB2_T_PURPLE_START, WELB2_T_PURPLE, DPURPLE),
               (WELB2_T_PINK_START, WELB2_T_PINK1, LPURPLE), (WELB2_T_PINK_START, WELB2_T_PINK2, LPURPLE),
               (WELB2_T_PINK3_START, WELB2_T_PINK3, LPURPLE),
               (WELB2_T_DGREEN_START, WELB2_T_DGREEN, DGREEN), (WELB2_T_LGREEN_START, WELB2_T_LGREEN, LGREEN)]

W, H = 685, 632
AXIS_GREY = "#555555"
TEXT = "#222222"


def yrs(start, values, step):
    return start + step * np.arange(len(values))


def draw_panel(ax, means, colors, labels, trees, legend_top):
    for start, vals, col in trees:
        ax.plot(yrs(start, vals, TREE_STEP), vals, color=col, lw=0.65, alpha=0.3, zorder=1)
    for (start, vals), col in zip(means, colors):
        ax.plot(yrs(start, vals, MEAN_STEP), vals, color=col, lw=1.15, zorder=3)

    ax.set_xlim(1745, 2031.6)
    ax.set_ylim(-0.18, 6.3)
    ax.set_yticks([0, 2, 4, 6])
    for side in ("top", "right"):
        ax.spines[side].set_visible(False)
    ax.spines["left"].set_color(AXIS_GREY)
    ax.spines["bottom"].set_color(AXIS_GREY)
    ax.tick_params(colors=AXIS_GREY, labelcolor=TEXT, labelsize=7.3, length=3, width=0.8, pad=2)
    ax.tick_params(which="minor", colors=AXIS_GREY, length=3, width=0.8)
    ax.set_ylabel("Tree-ring width (mm)", fontsize=7.2, color=TEXT)
    ax.yaxis.set_label_coords(-0.031, 0.5)

    handles = [Line2D([], [], color=c, lw=1.3) for c in colors]
    leg = ax.legend(handles, labels, title="Age groups (years)", loc="upper left",
                    bbox_to_anchor=(50 / W, 1 - legend_top / H), bbox_transform=ax.figure.transFigure,
                    frameon=False, fontsize=7.5, title_fontsize=7.5, handlelength=1.45,
                    handletextpad=0.6, labelspacing=0.8, borderpad=0, borderaxespad=0,
                    alignment="left")
    for t in leg.get_texts():
        t.set_color(TEXT)
    leg.get_title().set_color(TEXT)


fig = plt.figure(figsize=(W / 100, H / 100), dpi=100)

ax_a = fig.add_axes([33 / W, 1 - 193 / H, 652 / W, 178.3 / H])
ax_b = fig.add_axes([33 / W, 1 - 395.9 / H, 652 / W, 176.9 / H])
ax_c = fig.add_axes([33 / W, 1 - 597.9 / H, 652 / W, 176.9 / H])

draw_panel(ax_a, WEIG_MEANS, WEIG_COLORS, WEIG_LABELS, WEIG_TREES, 25.5)
draw_panel(ax_b, WELB1_MEANS, WELB1_COLORS, WELB1_LABELS, WELB1_TREES, 196)
draw_panel(ax_c, WELB2_MEANS, WELB2_COLORS, WELB2_LABELS, WELB2_TREES, 424.5)

for ax in (ax_a, ax_b):
    ax.spines["bottom"].set_visible(False)
    ax.tick_params(axis="x", which="both", bottom=False, labelbottom=False)

ax_c.set_xticks(np.arange(1750, 2001, 50))
ax_c.set_xticks(np.arange(1750, 2031, 10), minor=True)

fig.text(392 / W, 1 - 6 / H, "Weigenheim (WEIG)", ha="center", va="center", fontsize=7.2, color=TEXT)
fig.text(402 / W, 1 - 207 / H, "Welbhausen 2017 (WELB1)", ha="center", va="center", fontsize=7.2, color=TEXT)
fig.text(402 / W, 1 - 410 / H, "Welbhausen 2018 (WELB2)", ha="center", va="center", fontsize=7.2, color=TEXT)

for letter, ypx in (("A", 8), ("B", 205), ("C", 413)):
    fig.text(2 / W, 1 - ypx / H, letter, ha="left", va="center", fontsize=11, fontweight="bold", color="#111111")

fig.text(351 / W, 1 - 624 / H, "Years CE", ha="center", va="center", fontsize=7.4, color=TEXT)

fig.savefig("out.png", dpi=100)
